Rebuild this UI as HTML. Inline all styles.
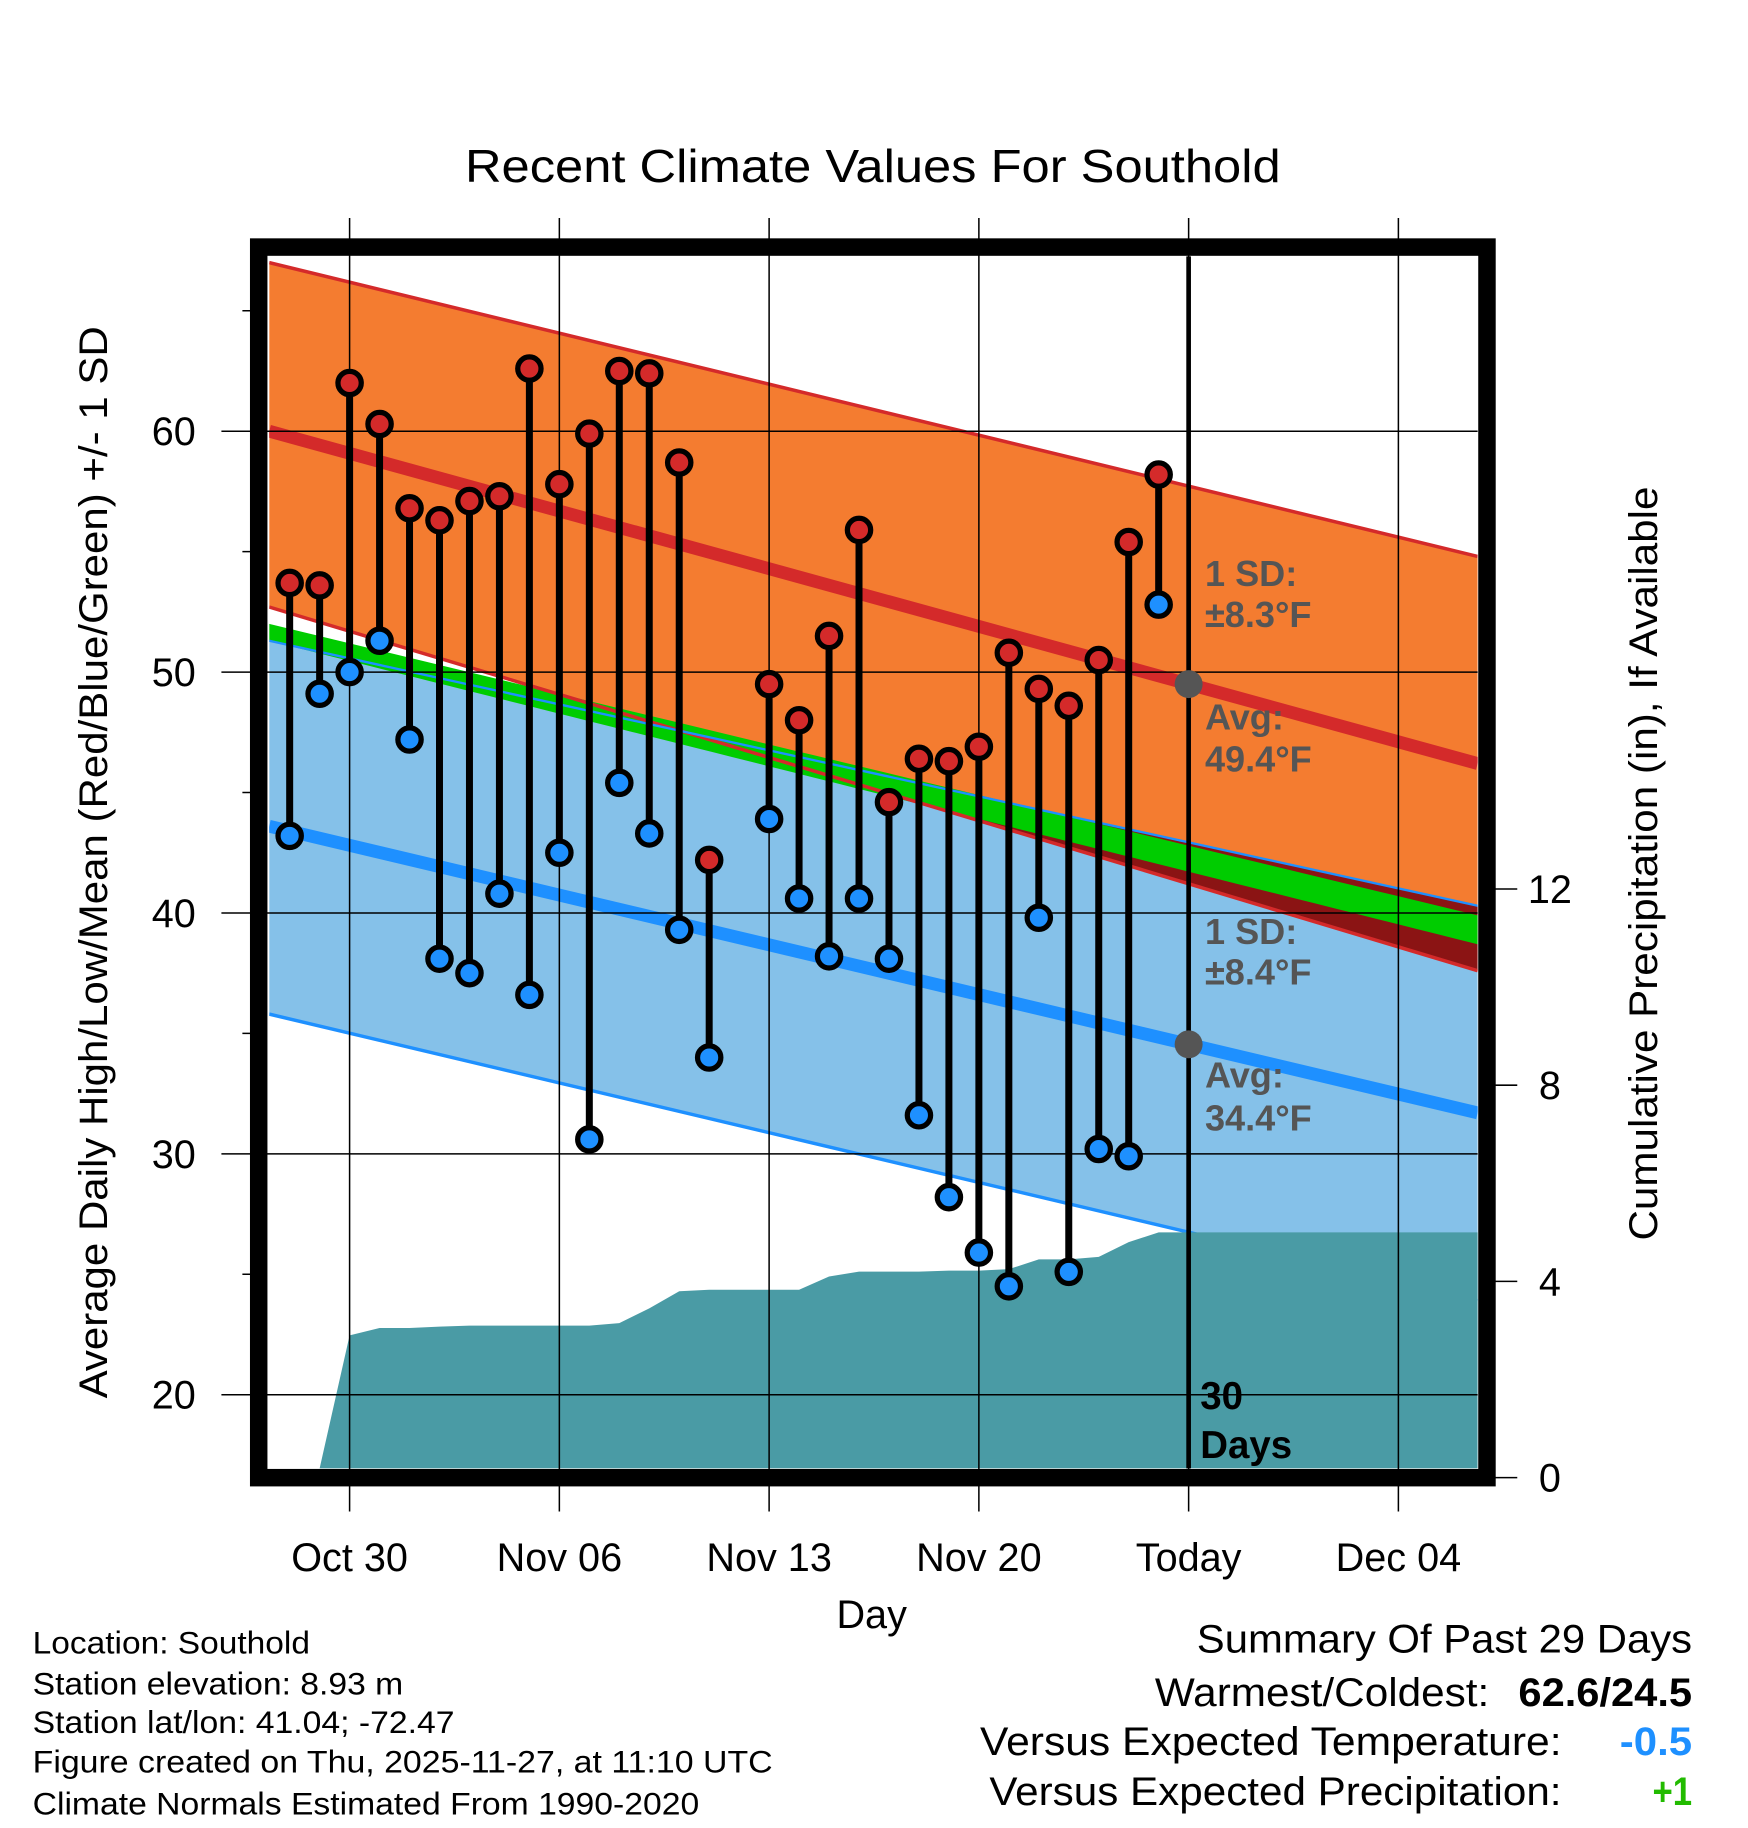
<!DOCTYPE html>
<html><head><meta charset="utf-8"><style>
html,body{margin:0;padding:0;background:#fff}
svg{display:block;font-family:"Liberation Sans",sans-serif}
</style></head><body>
<svg id="chart" width="1748" height="1828" viewBox="0 0 1500 1568.6" xmlns="http://www.w3.org/2000/svg">
<text x="749" y="156" font-size="40" text-anchor="middle" textLength="700" lengthAdjust="spacingAndGlyphs">Recent Climate Values For Southold</text>
<g id="plot"></g>
<text transform="translate(92,740) rotate(-90)" font-size="34" text-anchor="middle" textLength="920" lengthAdjust="spacingAndGlyphs">Average Daily High/Low/Mean (Red/Blue/Green) +/- 1 SD</text>
<text transform="translate(1422,741) rotate(-90)" font-size="34" text-anchor="middle" textLength="647" lengthAdjust="spacingAndGlyphs">Cumulative Precipitation (in), If Available</text>
<text x="748" y="1397" font-size="34" text-anchor="middle">Day</text>
<g font-size="27">
<text x="28" y="1419" textLength="238" lengthAdjust="spacingAndGlyphs">Location: Southold</text>
<text x="28" y="1454" textLength="318" lengthAdjust="spacingAndGlyphs">Station elevation: 8.93 m</text>
<text x="28" y="1487" textLength="362" lengthAdjust="spacingAndGlyphs">Station lat/lon: 41.04; -72.47</text>
<text x="28" y="1521" textLength="635" lengthAdjust="spacingAndGlyphs">Figure created on Thu, 2025-11-27, at 11:10 UTC</text>
<text x="28" y="1557" textLength="572" lengthAdjust="spacingAndGlyphs">Climate Normals Estimated From 1990-2020</text>
</g>
<g font-size="34">
<text x="1027" y="1418" textLength="425" lengthAdjust="spacingAndGlyphs">Summary Of Past 29 Days</text>
<text x="991" y="1464" textLength="287" lengthAdjust="spacingAndGlyphs">Warmest/Coldest:</text>
<text x="1303" y="1464" font-weight="bold" textLength="149" lengthAdjust="spacingAndGlyphs">62.6/24.5</text>
<text x="841" y="1506" textLength="499" lengthAdjust="spacingAndGlyphs">Versus Expected Temperature:</text>
<text x="1390" y="1506" font-weight="bold" fill="#1e90ff" textLength="62" lengthAdjust="spacingAndGlyphs">-0.5</text>
<text x="849" y="1549" textLength="491" lengthAdjust="spacingAndGlyphs">Versus Expected Precipitation:</text>
<text x="1418" y="1549" font-weight="bold" fill="#22bb00" textLength="34" lengthAdjust="spacingAndGlyphs">+1</text>
</g>
</svg>
<script>
const days=[-2,-1,0,1,2,3,4,5,6,7,8,9,10,11,12,14,15,16,17,18,19,20,21,22,23,24,25,26,27];
const highs=[53.7,53.6,62.0,60.3,56.8,56.3,57.1,57.3,62.6,57.8,59.9,62.5,62.4,58.7,42.2,49.5,48.0,51.5,55.9,44.6,46.4,46.3,46.9,50.8,49.3,48.6,50.5,55.4,58.2];
const lows=[43.2,49.1,50.0,51.3,47.2,38.1,37.5,40.8,36.6,42.5,30.6,45.4,43.3,39.3,34.0,43.9,40.6,38.2,40.6,38.1,31.6,28.2,25.9,24.5,39.8,25.1,30.2,29.9,52.8];
const precipDays=[-2,-1,0,1,2,3,4,5,6,7,8,9,10,11,12,13,14,15,16,17,18,19,20,21,22,23,24,25,26,27,37.65];
const precip=[0,0,2.9,3.05,3.05,3.08,3.1,3.1,3.1,3.1,3.1,3.15,3.45,3.8,3.83,3.83,3.83,3.83,4.1,4.2,4.2,4.2,4.22,4.22,4.25,4.45,4.45,4.5,4.8,5.0,5.0];
// normals at left edge / right edge of plot: [left,right]
const normHigh=[60.0,46.2], normHighUpper=[67.0,54.8], normHighLower=[52.7,37.6];
const normLow=[43.6,31.7], normLowUpper=[51.3,40.3], normLowLower=[35.8,23.9];
const normMeanTop=[52.0,39.9], normMeanBot=[51.3,38.7];
const annLabels=["1 SD:","±8.3°F","Avg:","49.4°F","1 SD:","±8.4°F","Avg:","34.4°F"];
const xTickDays=[0,7,14,21,28,35];
const xTickLabels=["Oct 30","Nov 06","Nov 13","Nov 20","Today","Dec 04"];
const yTicks=[20,30,40,50,60];
const y2Ticks=[0,4,8,12];

const NS="http://www.w3.org/2000/svg";
const L=231,R=1268,T=220,B=1260;
const X=d=>300+d*25.714;
const Y=v=>370+(60-v)*20.67;
const Y2=p=>1268-p*42.1;
const dL=(L-300)/25.714,dR=(R-300)/25.714;
const g=document.getElementById('plot');
function el(tag,attrs,parent){const e=document.createElementNS(NS,tag);for(const k in attrs)e.setAttribute(k,attrs[k]);(parent||g).appendChild(e);return e;}
const lin=(a,d)=>a[0]+(a[1]-a[0])*(d-dL)/(dR-dL);
el('defs',{}).innerHTML='<clipPath id="cp"><rect x="231" y="220" width="1037" height="1040"/></clipPath>';
const inner=el('g',{'clip-path':'url(#cp)'});
function band(fTop,fBot,fill,name){
  const n=60;let pts=[];
  for(let i=0;i<=n;i++){const d=dL+(dR-dL)*i/n;pts.push(X(d)+','+Y(fTop(d)));}
  for(let i=n;i>=0;i--){const d=dL+(dR-dL)*i/n;pts.push(X(d)+','+Y(fBot(d)));}
  const p=el('polygon',{points:pts.join(' '),fill:fill},inner);
  
  
}
const hU=d=>lin(normHighUpper,d), hL=d=>lin(normHighLower,d), lU=d=>lin(normLowUpper,d), lL=d=>lin(normLowLower,d);
band(hU,hL,'#f47c30','high-sd-band');
band(lU,lL,'#85c1e9','low-sd-band');
band(d=>Math.min(hU(d),lU(d)),d=>Math.min(lU(d),Math.max(hL(d),lL(d))),'#8b1414','overlap-band');
band(d=>lin(normMeanTop,d),d=>lin(normMeanBot,d),'#00cc00','mean-band');
function line(arr,stroke,w,name){
  const l=el('line',{x1:L,y1:Y(arr[0]),x2:R,y2:Y(arr[1]),stroke:stroke,'stroke-width':w},inner);
  
  
}
line(normHighUpper,'#d42a2a',3,'high-upper-sd-line');
line(normHighLower,'#d42a2a',3,'high-lower-sd-line');
line(normLowUpper,'#1e90ff',2,'low-upper-sd-line');
line(normLowLower,'#1e90ff',3,'low-lower-sd-line');
line(normHigh,'#d42a2a',11,'high-avg-line');
line(normLow,'#1e90ff',11,'low-avg-line');
let pp=[];
precipDays.forEach((d,i)=>pp.push(Math.max(L,X(d))+','+Math.min(B,Y2(precip[i]))));
pp.push(R+','+B);pp.push(L+','+B);
const pr=el('polygon',{points:pp.join(' '),fill:'#4a9ba5'},inner);


yTicks.forEach(v=>{const l=el('line',{x1:190,y1:Y(v),x2:R,y2:Y(v),stroke:'#000','stroke-width':1.3});

const t=el('text',{x:168,y:Y(v)+12,'font-size':34,'text-anchor':'end'});t.textContent=v;
});
[25,35,45,55,65].forEach(v=>{el('line',{x1:208,y1:Y(v),x2:222,y2:Y(v),stroke:'#000','stroke-width':1.3});});
xTickDays.forEach((d,i)=>{const l=el('line',{x1:X(d),y1:187,x2:X(d),y2:1297,stroke:'#000','stroke-width':1.3});

const t=el('text',{x:X(d),y:1348,'font-size':34,'text-anchor':'middle'});t.textContent=xTickLabels[i];
});
y2Ticks.forEach(p=>{el('line',{x1:1276,y1:Y2(p),x2:1302,y2:Y2(p),stroke:'#000','stroke-width':1.3});
const t=el('text',{x:1330,y:Y2(p)+12,'font-size':34,'text-anchor':'middle'});t.textContent=p;
});
const tl=el('line',{x1:X(28),y1:T,x2:X(28),y2:B,stroke:'#000','stroke-width':4});

[[Y(lin(normHigh,28)),'high'],[Y(lin(normLow,28)),'low']].forEach(([y,n])=>{const c=el('circle',{cx:X(28),cy:y,r:12,fill:'#555'});
});
const annY=[503,538,626,662,810,845,933,970];
annLabels.forEach((s,i)=>{const t=el('text',{x:1034,y:annY[i],'font-size':31,'font-weight':'bold',fill:'#555'});t.textContent=s;
});
[["30",1209],["Days",1251]].forEach(([s,y])=>{const t=el('text',{x:1030,y:y,'font-size':33,'font-weight':'bold'});t.textContent=s;
});
days.forEach((d,i)=>{
  const s=el('line',{x1:X(d),y1:Y(highs[i]),x2:X(d),y2:Y(lows[i]),stroke:'#000','stroke-width':6});
  
});
days.forEach((d,i)=>{
  const h=el('circle',{cx:X(d),cy:Y(highs[i]),r:10,fill:'#d42a2a',stroke:'#000','stroke-width':4.5});
  
  const l=el('circle',{cx:X(d),cy:Y(lows[i]),r:10,fill:'#1e90ff',stroke:'#000','stroke-width':4.5});
  
});
const fr=el('rect',{x:222,y:212,width:1054,height:1056,fill:'none',stroke:'#000','stroke-width':15});

</script>
</body></html>
